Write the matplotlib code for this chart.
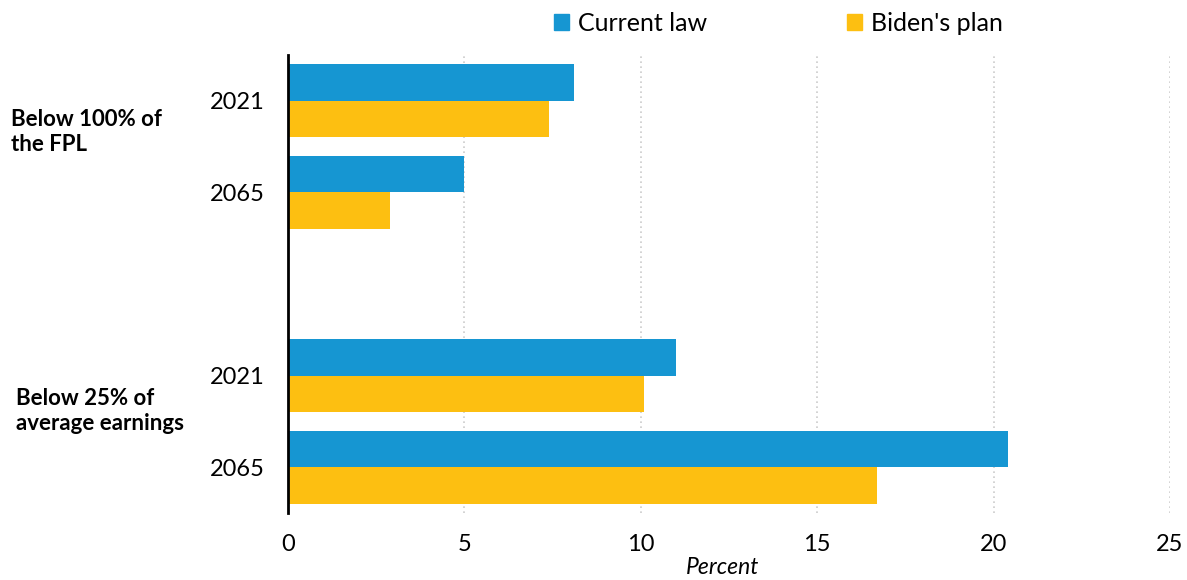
import numpy as np
import matplotlib
matplotlib.use('Agg')
import matplotlib.pyplot as plt
from matplotlib.patches import Patch
from matplotlib.transforms import blended_transform_factory

plt.rcParams['font.family'] = ['Lato', 'DejaVu Sans']

# Share of beneficiaries in each group, percent
groups = ['Below 100% of\nthe FPL', 'Below 25% of\naverage earnings']
years = ['2021', '2065', '2021', '2065']
current_law = [8.1, 5.0, 11.0, 20.4]
bidens_plan = [7.4, 2.9, 10.1, 16.7]
series_names = ['Current law', "Biden's plan"]

blue = '#1696d2'
yellow = '#fdbf11'

rows = np.array([0, 1, 3, 4])
bar_h = 0.4

fig = plt.figure(figsize=(11.87, 5.8), dpi=100)
ax = fig.add_axes([0.2426, 0.1155, 0.7431, 0.7897])

ax.barh(rows - bar_h / 2, current_law, height=bar_h, color=blue, zorder=3)
ax.barh(rows + bar_h / 2, bidens_plan, height=bar_h, color=yellow, zorder=3)

ax.set_xlim(0, 25)
ax.set_ylim(4.5, -0.5)
ax.set_xticks([0, 5, 10, 15, 20, 25])
ax.set_yticks(rows)
ax.set_yticklabels(years)
ax.tick_params(axis='x', length=0, pad=15, labelsize=17)
ax.tick_params(axis='y', length=0, pad=17, labelsize=17)

ax.grid(axis='x', color='#cccccc', linestyle=(0, (1, 2)), linewidth=1.2, zorder=0)
for s in ['top', 'right', 'bottom']:
    ax.spines[s].set_visible(False)
ax.spines['left'].set_linewidth(2)
ax.spines['left'].set_zorder(4)

ax.set_xlabel('Percent', fontsize=16.5, style='italic', labelpad=3)
ax.xaxis.set_label_coords(0.493, -0.0)
ax.xaxis.label.set_va('top')
ax.xaxis.set_label_coords(0.493, -0.095)

# group labels to the left of the year labels
trans = blended_transform_factory(fig.transFigure, ax.transData)
ax.text(11 / 1187, 0.34, groups[0], transform=trans, ha='left', va='center',
        fontsize=16, fontweight='bold', linespacing=1.25)
ax.text(16 / 1187, 3.39, groups[1], transform=trans, ha='left', va='center',
        fontsize=16, fontweight='bold', linespacing=1.25)

handles = [Patch(color=blue), Patch(color=yellow)]
fig.legend(handles, series_names, loc='upper left', bbox_to_anchor=(544 / 1187, 0.997),
           ncol=2, frameon=False, fontsize=18, handlelength=0.6, handleheight=0.6,
           handletextpad=0.35, columnspacing=5.6, borderaxespad=0)

fig.savefig('out.png', dpi=100)
